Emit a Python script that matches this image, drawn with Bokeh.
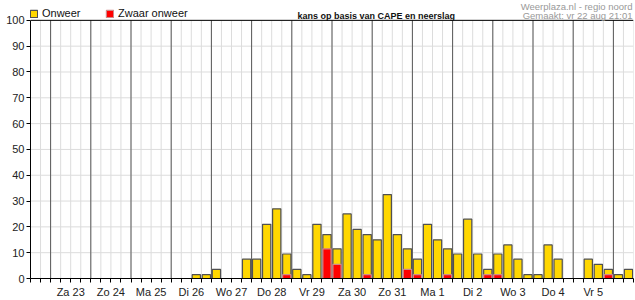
from bokeh.plotting import figure
from bokeh.models import (FixedTicker, Label, Legend, LegendItem,
                          ColumnDataSource, Range1d)
from bokeh.embed import file_html
from bokeh.resources import INLINE

# ---- data -------------------------------------------------------------
day_labels = ["Za 23", "Zo 24", "Ma 25", "Di 26", "Wo 27", "Do 28", "Vr 29",
              "Za 30", "Zo 31", "Ma 1", "Di 2", "Wo 3", "Do 4", "Vr 5"]

# kans op onweer per 6-uurs blok (%), vanaf vr 22 12u
onweer = [0, 0,
          0, 0, 0, 0,
          0, 0, 0, 0,
          0, 0, 0, 0,
          0, 0, 1.5, 1.5,
          3.5, 0, 0, 7.5,
          7.5, 21, 27, 9.5,
          3.5, 1.5, 21, 17,
          11.5, 25, 19, 17,
          15, 32.5, 17, 11.5,
          7.5, 21, 15, 11.5,
          9.5, 23, 9.5, 3.5,
          9.5, 13, 7.5, 1.5,
          1.5, 13, 7.5, 0,
          0, 7.5, 5.5, 3.5,
          1.5, 3.5]

zwaar_onweer = [0, 0,
                0, 0, 0, 0,
                0, 0, 0, 0,
                0, 0, 0, 0,
                0, 0, 0, 0,
                0, 0, 0, 0,
                0, 0, 0, 1.5,
                0, 0, 0, 11.5,
                5.5, 0, 0, 1.5,
                0, 0, 0, 3.5,
                1.5, 0, 0, 1.5,
                0, 0, 0, 1.5,
                1.5, 0, 0, 0,
                0, 0, 0, 0,
                0, 0, 0, 1.5,
                0, 0]

y_ticks = [0, 10, 20, 30, 40, 50, 60, 70, 80, 90, 100]

title_text = "kans op basis van CAPE en neerslag"
credit_1 = "Weerplaza.nl - regio noord"
credit_2 = "Gemaakt: vr 22 aug 21:01"

slots_per_day = 4
first_day_slot = 2
n_slots = len(onweer)
y_max = 100

FONT = "Liberation Sans"

# ---- sources ----------------------------------------------------------
y_idx = [i for i, v in enumerate(onweer) if v > 0]
r_idx = [i for i, v in enumerate(zwaar_onweer) if v > 0]
src_y = ColumnDataSource(dict(x=[i + 0.5 for i in y_idx], top=[onweer[i] for i in y_idx]))
src_r = ColumnDataSource(dict(x=[i + 0.5 for i in r_idx], top=[zwaar_onweer[i] for i in r_idx]))

all_slots = list(range(n_slots + 1))
day_bounds = [first_day_slot + k * slots_per_day for k in range(len(day_labels) + 1)]

# frame reaches the top of the canvas so the header texts sit inside it
p = figure(width=635, height=300, output_backend="svg", toolbar_location=None,
           x_range=Range1d(0, n_slots), y_range=Range1d(0, y_max * 280 / 260),
           min_border_left=30, min_border_right=2, min_border_top=0,
           min_border_bottom=20)
p.outline_line_color = None
p.background_fill_color = "white"
p.border_fill_color = "white"
p.xgrid.visible = False
p.ygrid.visible = False

# grid lines (limited to 0..100)
p.segment(x0=all_slots, y0=[0] * len(all_slots), x1=all_slots, y1=[y_max] * len(all_slots),
          line_color="#dcdcdc", line_width=1)
p.segment(x0=[0] * len(y_ticks), y0=y_ticks, x1=[n_slots] * len(y_ticks), y1=y_ticks,
          line_color="#dcdcdc", line_width=1)
# day separators
p.segment(x0=day_bounds, y0=[0] * len(day_bounds), x1=day_bounds, y1=[y_max] * len(day_bounds),
          line_color="#5a5a5a", line_width=1)
# top border
p.segment(x0=[0], y0=[y_max], x1=[n_slots], y1=[y_max], line_color="black", line_width=1)

# axes
overrides = {i: "" for i in all_slots}
for k, lab in enumerate(day_labels):
    overrides[first_day_slot + k * slots_per_day + slots_per_day // 2] = lab
p.xaxis.ticker = FixedTicker(ticks=all_slots)
p.xaxis.major_label_overrides = overrides
p.yaxis.ticker = FixedTicker(ticks=y_ticks)
p.yaxis.bounds = (0, y_max)
for ax in (p.xaxis, p.yaxis):
    ax.major_tick_in = 0
    ax.major_tick_out = 4
    ax.minor_tick_out = 0
    ax.minor_tick_in = 0
    ax.axis_line_color = "black"
    ax.major_tick_line_color = "black"
    ax.major_label_text_font = FONT
    ax.major_label_text_font_size = "11px"
    ax.major_label_text_color = "#222222"
p.xaxis.major_label_standoff = 3
p.yaxis.major_label_standoff = 2

# bars
ry = p.vbar(x="x", top="top", width=0.82, bottom=0, source=src_y,
            fill_color="#FFD700", line_color="#505050", line_width=1.2)
rr = p.vbar(x="x", top="top", width=0.82, bottom=0, source=src_r,
            fill_color="#FF0000", line_color="#d08888", line_width=1.2)

# legend
legend = Legend(items=[LegendItem(label="Onweer", renderers=[ry]),
                       LegendItem(label="Zwaar onweer", renderers=[rr])],
                orientation="horizontal", location=(-1, 259),
                glyph_width=9, glyph_height=9, label_standoff=4,
                label_width=55, label_height=9, spacing=8, padding=0, margin=0,
                border_line_color=None, background_fill_alpha=0,
                label_text_font=FONT, label_text_font_size="11px",
                label_text_color="#111111")
p.add_layout(legend, "center")

# header texts
p.add_layout(Label(x=267, y=262.7, x_units="screen", y_units="screen",
                   text=title_text, text_font=FONT, text_font_size="9px",
                   text_font_style="bold", text_color="#111111",
                   text_baseline="alphabetic"))
p.add_layout(Label(x=602, y=272, x_units="screen", y_units="screen",
                   text=credit_1, text_font=FONT, text_font_size="9.5px",
                   text_color="#999999", text_align="right",
                   text_baseline="alphabetic"))
p.add_layout(Label(x=602, y=263, x_units="screen", y_units="screen",
                   text=credit_2, text_font=FONT, text_font_size="9.5px",
                   text_color="#999999", text_align="right",
                   text_baseline="alphabetic"))

open("out.html", "w").write(file_html(p, INLINE))
